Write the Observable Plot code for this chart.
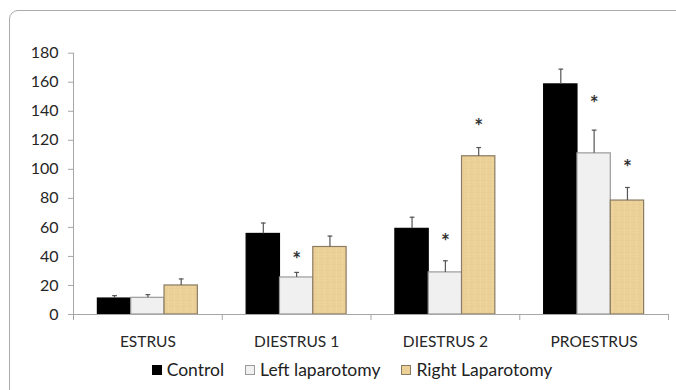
<!DOCTYPE html>
<html>
<head>
<meta charset="utf-8">
<script src="https://cdn.jsdelivr.net/npm/d3@7"></script>
<script src="https://cdn.jsdelivr.net/npm/@observablehq/plot@0.6"></script>
<style>
  html, body { margin: 0; padding: 0; background: #fff; overflow: hidden; }
  #wrap { position: relative; width: 676px; height: 390px; overflow: hidden; font-family: Lato, "Open Sans", sans-serif; }
  #frame { position: absolute; left: 9px; top: 10px; width: 720px; height: 420px; border: 1px solid #ababab; border-radius: 9px; box-sizing: border-box; }
  #chart { position: absolute; left: 0; top: 0; }
  #legend { position: absolute; top: 359px; left: 0; width: 676px; display: flex; justify-content: center; gap: 21px; font-size: 17.5px; color: #222; padding-left: 28px; box-sizing: border-box; }
  #legend span.item { display: flex; align-items: center; gap: 5px; }
  #legend span.sw { display: inline-block; width: 10px; height: 10px; box-sizing: border-box; }
</style>
</head>
<body>
<div id="wrap">
  <div id="frame"></div>
  <div id="chart"></div>
  <div id="legend"></div>
</div>
<script>
const categories = ["ESTRUS", "DIESTRUS 1", "DIESTRUS 2", "PROESTRUS"];
const seriesNames = ["Control", "Left laparotomy", "Right Laparotomy"];
const control    = [11, 55.5, 59, 158.5];
const controlErr = [2, 7.5, 8, 10.5];
const left       = [11.5, 25.5, 29, 111];
const leftErr    = [2.2, 3.5, 8, 16];
const right      = [20, 46.5, 109, 78.5];
const rightErr   = [4.5, 7.5, 6, 9];
const starLeft   = [null, 40.5, 53, 148];
const starRight  = [null, null, 132.5, 104];
const yTicks = [0, 20, 40, 60, 80, 100, 120, 140, 160, 180];

const fills   = ["#000000", "#f0f0f0", "#ebd197"];
const strokes = ["#000000", "#9a9a9a", "#8a7b62"];

const vals = [control, left, right];
const errs = [controlErr, leftErr, rightErr];
const stars = [null, starLeft, starRight];

const outer = 0.164, bw = 0.224, cap = 0.016;
const rows = [];
categories.forEach((c, i) => {
  seriesNames.forEach((s, k) => {
    rows.push({ i, cat: c, s: k, v: vals[k][i], e: errs[k][i], star: stars[k] ? stars[k][i] : null });
  });
});
const x1 = d => d.i + outer + d.s * bw;
const x2 = d => d.i + outer + (d.s + 1) * bw;
const xc = d => d.i + outer + (d.s + 0.5) * bw;

const chart = Plot.plot({
  width: 676,
  height: 355,
  marginLeft: 73,
  marginRight: 8,
  marginTop: 52.7,
  marginBottom: 41,
  style: { fontFamily: "Lato, 'Open Sans', sans-serif", fontSize: "15px", color: "#262626", background: "transparent" },
  x: { type: "linear", domain: [0, 4], axis: null },
  y: { domain: [0, 180], axis: null },
  marks: [
    Plot.ruleX([0], { y1: 0, y2: 180, stroke: "#a6a6a6" }),
    Plot.axisY({ ticks: yTicks, tickSize: 5, tickPadding: 10, stroke: "#a6a6a6", fill: "#262626", fontSize: 16 }),
    Plot.axisX({ ticks: [0, 1, 2, 3, 4], tickSize: 6, tickFormat: () => "", stroke: "#a6a6a6" }),
    Plot.axisX({ ticks: [0.5, 1.5, 2.5, 3.5], tickSize: 0, tickPadding: 21, tickFormat: d => categories[Math.floor(d)], fill: "#262626", fontSize: 15.5 }),
    Plot.rectY(rows.filter(d => d.s < 2), { x1, x2, y1: 0, y2: "v", fill: d => fills[d.s], stroke: d => strokes[d.s], strokeWidth: 1.2 }),
    Plot.rectY(rows.filter(d => d.s === 2), { x1, x2, y1: 0, y2: "v", fill: "url(#tex)", stroke: strokes[2], strokeWidth: 1.2 }),
    Plot.ruleY([0], { stroke: "#a6a6a6" }),
    Plot.ruleX(rows, { x: xc, y1: "v", y2: d => d.v + d.e, stroke: "#555", strokeWidth: 1.2 }),
    Plot.link(rows, { x1: d => xc(d) - cap, x2: d => xc(d) + cap, y1: d => d.v + d.e, y2: d => d.v + d.e, stroke: "#555", strokeWidth: 1.2 }),
    Plot.text(rows.filter(d => d.star != null), { x: xc, y: "star", text: () => "*", fontSize: 21, fontWeight: "bold", fill: "#333", dy: 5 })
  ]
});
// subtle paper-like texture for the tan bars
const ns = "http://www.w3.org/2000/svg";
const defs = document.createElementNS(ns, "defs");
defs.innerHTML = `<pattern id="tex" patternUnits="userSpaceOnUse" width="6" height="6">
  <rect width="6" height="6" fill="${fills[2]}"/>
  <rect x="0" y="0" width="6" height="1" fill="#e3c889" opacity="0.45"/>
  <rect x="0" y="0" width="1" height="6" fill="#f1daa6" opacity="0.5"/>
  <rect x="3" y="3" width="1" height="1" fill="#dcc082" opacity="0.35"/>
</pattern>`;
chart.insertBefore(defs, chart.firstChild);
document.getElementById("chart").appendChild(chart);

const legend = document.getElementById("legend");
seriesNames.forEach((s, k) => {
  const item = document.createElement("span");
  item.className = "item";
  const sw = document.createElement("span");
  sw.className = "sw";
  sw.style.background = fills[k];
  sw.style.border = "1px solid " + strokes[k];
  item.appendChild(sw);
  item.appendChild(document.createTextNode(s));
  legend.appendChild(item);
});
</script>
</body>
</html>
